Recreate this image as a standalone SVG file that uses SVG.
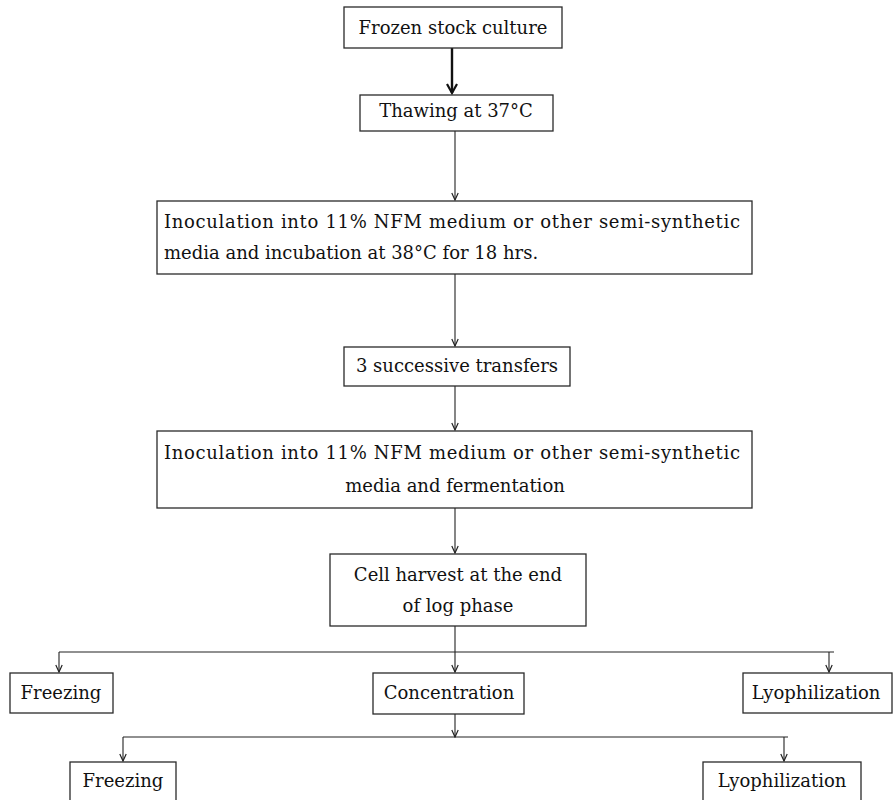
<svg xmlns="http://www.w3.org/2000/svg" width="894" height="800" viewBox="0 0 894 800">
<style>
  .box { fill: #ffffff; stroke: #2a2a2a; stroke-width: 1.3; }
  .t { font-family: "DejaVu Serif", "Liberation Serif", serif; font-size: 18px; fill: #111; }
  .c { text-anchor: middle; }
  .ln { stroke: #222; stroke-width: 1.1; fill: none; }
  .thick { stroke: #111; stroke-width: 2.4; fill: none; }
</style>
<defs>
  <marker id="ah" viewBox="-9 -5 10 10" refX="0" refY="0" markerWidth="10" markerHeight="10" markerUnits="userSpaceOnUse" orient="auto">
    <path d="M-7,-3.2 L0,0 L-7,3.2" fill="none" stroke="#222" stroke-width="1.2"/>
  </marker>
  <marker id="ahb" viewBox="-11 -7 13 14" refX="0" refY="0" markerWidth="13" markerHeight="14" markerUnits="userSpaceOnUse" orient="auto">
    <path d="M-9,-5 L0,0 L-9,5" fill="none" stroke="#111" stroke-width="2.2"/>
  </marker>
</defs>

<g id="connectors">
  <line class="thick" x1="452" y1="48" x2="452" y2="93" marker-end="url(#ahb)"/>
  <line class="ln" x1="455" y1="131" x2="455" y2="200" marker-end="url(#ah)"/>
  <line class="ln" x1="455" y1="274" x2="455" y2="346" marker-end="url(#ah)"/>
  <line class="ln" x1="455" y1="386" x2="455" y2="430" marker-end="url(#ah)"/>
  <line class="ln" x1="455" y1="508" x2="455" y2="553" marker-end="url(#ah)"/>
  <line class="ln" x1="455" y1="626" x2="455" y2="652"/>
  <line class="ln" x1="59" y1="652" x2="834" y2="652"/>
  <line class="ln" x1="59" y1="652" x2="59" y2="672" marker-end="url(#ah)"/>
  <line class="ln" x1="455" y1="652" x2="455" y2="672" marker-end="url(#ah)"/>
  <line class="ln" x1="829" y1="652" x2="829" y2="672" marker-end="url(#ah)"/>
  <line class="ln" x1="455" y1="714" x2="455" y2="737" marker-end="url(#ah)"/>
  <line class="ln" x1="123" y1="737" x2="788" y2="737"/>
  <line class="ln" x1="123" y1="737" x2="123" y2="761" marker-end="url(#ah)"/>
  <line class="ln" x1="784" y1="737" x2="784" y2="761" marker-end="url(#ah)"/>
</g>

<g id="n1">
  <rect class="box" x="344" y="7" width="218" height="41"/>
  <text class="t c" x="453" y="34">Frozen stock culture</text>
</g>
<g id="n2">
  <rect class="box" x="360" y="95" width="193" height="36"/>
  <text class="t c" x="456" y="117">Thawing at 37°C</text>
</g>
<g id="n3">
  <rect class="box" x="157" y="201" width="595" height="73"/>
  <text class="t" x="164" y="228" textLength="576" lengthAdjust="spacing">Inoculation into 11% NFM medium or other semi-synthetic</text>
  <text class="t" x="164" y="259">media and incubation at 38°C for 18 hrs.</text>
</g>
<g id="n4">
  <rect class="box" x="344" y="347" width="226" height="39"/>
  <text class="t c" x="457" y="372">3 successive transfers</text>
</g>
<g id="n5">
  <rect class="box" x="157" y="431" width="595" height="77"/>
  <text class="t" x="164" y="459" textLength="576" lengthAdjust="spacing">Inoculation into 11% NFM medium or other semi-synthetic</text>
  <text class="t c" x="455" y="492">media and fermentation</text>
</g>
<g id="n6">
  <rect class="box" x="330" y="554" width="256" height="72"/>
  <text class="t c" x="458" y="581">Cell harvest at the end</text>
  <text class="t c" x="458" y="612">of log phase</text>
</g>
<g id="n7">
  <rect class="box" x="10" y="673" width="103" height="40"/>
  <text class="t c" x="61" y="699">Freezing</text>
</g>
<g id="n8">
  <rect class="box" x="373" y="673" width="151" height="41"/>
  <text class="t c" x="449" y="699">Concentration</text>
</g>
<g id="n9">
  <rect class="box" x="743" y="673" width="149" height="40"/>
  <text class="t c" x="816" y="699">Lyophilization</text>
</g>
<g id="n10">
  <rect class="box" x="70" y="762" width="106" height="45"/>
  <text class="t c" x="123" y="787">Freezing</text>
</g>
<g id="n11">
  <rect class="box" x="703" y="762" width="158" height="45"/>
  <text class="t c" x="782" y="787">Lyophilization</text>
</g>
</svg>
